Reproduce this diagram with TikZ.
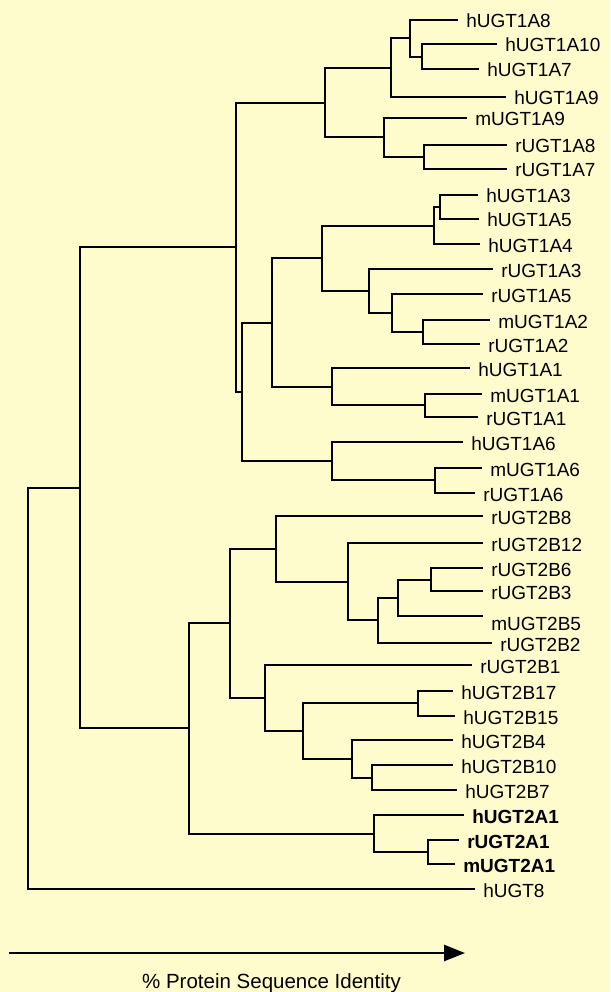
\documentclass[tikz,border=0pt]{standalone}
\usepackage{fontspec}
\setmainfont{Liberation Sans}
\usetikzlibrary{arrows.meta}
\definecolor{paper}{RGB}{254,251,204}

\begin{document}
\begin{tikzpicture}
  [x=1pt, y=-1pt, line width=2.6pt,
   leaf/.style={anchor=west, inner xsep=7pt, inner ysep=0pt, text height=16pt,
     text depth=0pt, font=\fontsize{19}{19}\selectfont},
   bold leaf/.style={leaf, font=\fontsize{19}{19}\selectfont\bfseries}]
  \useasboundingbox (0,0) rectangle (610,992);
  \fill[paper] (0,0) rectangle (610,992);

  % Leaves: UGT1A family
  \node[leaf] (h1A8)  at (458,20)  {hUGT1A8};
  \node[leaf] (h1A10) at (497,44)  {hUGT1A10};
  \node[leaf] (h1A7)  at (479,69)  {hUGT1A7};
  \node[leaf] (h1A9)  at (506,97)  {hUGT1A9};
  \node[leaf] (m1A9)  at (467,118) {mUGT1A9};
  \node[leaf] (r1A8)  at (507,145) {rUGT1A8};
  \node[leaf] (r1A7)  at (507,169) {rUGT1A7};
  \node[leaf] (h1A3)  at (478,195) {hUGT1A3};
  \node[leaf] (h1A5)  at (479,219) {hUGT1A5};
  \node[leaf] (h1A4)  at (480,244) {hUGT1A4};
  \node[leaf] (r1A3)  at (493,269) {rUGT1A3};
  \node[leaf] (r1A5)  at (483,294) {rUGT1A5};
  \node[leaf] (m1A2)  at (490,320) {mUGT1A2};
  \node[leaf] (r1A2)  at (480,344) {rUGT1A2};
  \node[leaf] (h1A1)  at (470,368) {hUGT1A1};
  \node[leaf] (m1A1)  at (482,394) {mUGT1A1};
  \node[leaf] (r1A1)  at (478,417) {rUGT1A1};
  \node[leaf] (h1A6)  at (463,442) {hUGT1A6};
  \node[leaf] (m1A6)  at (482,468) {mUGT1A6};
  \node[leaf] (r1A6)  at (475,493) {rUGT1A6};
  % Leaves: UGT2 family and hUGT8
  \node[leaf] (r2B8)  at (483,516) {rUGT2B8};
  \node[leaf] (r2B12) at (483,543) {rUGT2B12};
  \node[leaf] (r2B6)  at (483,568) {rUGT2B6};
  \node[leaf] (r2B3)  at (483,591) {rUGT2B3};
  \node[leaf, text height=28pt] (m2B5) at (483,616) {mUGT2B5};
  \node[leaf] (r2B2)  at (492,643) {rUGT2B2};
  \node[leaf] (r2B1)  at (472,665) {rUGT2B1};
  \node[leaf] (h2B17) at (453,691) {hUGT2B17};
  \node[leaf] (h2B15) at (455,716) {hUGT2B15};
  \node[leaf] (h2B4)  at (453,740) {hUGT2B4};
  \node[leaf] (h2B10) at (453,765) {hUGT2B10};
  \node[leaf] (h2B7)  at (457,790) {hUGT2B7};
  \node[bold leaf] (h2A1) at (464,815) {hUGT2A1};
  \node[bold leaf] (r2A1) at (459,840) {rUGT2A1};
  \node[bold leaf] (m2A1) at (455,864) {mUGT2A1};
  \node[leaf] (hUGT8) at (475,889) {hUGT8};

  % Branch points, UGT1A
  \coordinate (A10A7) at (422,57);
  \coordinate (A8grp) at (410,38);
  \coordinate (A9h)   at (391,68);
  \coordinate (rA8A7) at (424,157);
  \coordinate (A9rm)  at (384,137);
  \coordinate (A9all) at (325,103);
  \coordinate (A3A5)  at (440,207);
  \coordinate (A3A4)  at (434,226);
  \coordinate (A2mr)  at (423,332);
  \coordinate (A5A2)  at (392,313);
  \coordinate (rA3)   at (369,291);
  \coordinate (A3all) at (322,258);
  \coordinate (A1mr)  at (425,405);
  \coordinate (A1all) at (332,387);
  \coordinate (A1A3)  at (272,323);
  \coordinate (A6mr)  at (435,480);
  \coordinate (A6all) at (332,461);
  \coordinate (A1A6)  at (242,392);
  \coordinate (UGT1)  at (236,247);
  % Branch points, UGT2
  \coordinate (B6B3)  at (431,580);
  \coordinate (B5grp) at (398,598);
  \coordinate (B2grp) at (378,620);
  \coordinate (B12grp) at (348,582);
  \coordinate (B8grp) at (276,549);
  \coordinate (B17B15) at (418,703);
  \coordinate (B10B7) at (372,778);
  \coordinate (B4grp) at (352,759);
  \coordinate (hB)    at (303,731);
  \coordinate (B1grp) at (265,698);
  \coordinate (UGT2B) at (230,623);
  \coordinate (A1rm)  at (428,852);
  \coordinate (UGT2A) at (374,834);
  \coordinate (UGT2)  at (189,728);
  \coordinate (UGT12) at (80,488);
  \coordinate (root)  at (28,688);

  % UGT1A subtree
  \draw (A10A7) |- (h1A10) (A10A7) |- (h1A7);
  \draw (A8grp) |- (h1A8) (A8grp) |- (A10A7);
  \draw (A9h) |- (A8grp) (A9h) |- (h1A9);
  \draw (rA8A7) |- (r1A8) (rA8A7) |- (r1A7);
  \draw (A9rm) |- (m1A9) (A9rm) |- (rA8A7);
  \draw (A9all) |- (A9h) (A9all) |- (A9rm);
  \draw (A3A5) |- (h1A3) (A3A5) |- (h1A5);
  \draw (A3A4) |- (A3A5) (A3A4) |- (h1A4);
  \draw (A2mr) |- (m1A2) (A2mr) |- (r1A2);
  \draw (A5A2) |- (r1A5) (A5A2) |- (A2mr);
  \draw (rA3) |- (r1A3) (rA3) |- (A5A2);
  \draw (A3all) |- (A3A4) (A3all) |- (rA3);
  \draw (A1mr) |- (m1A1) (A1mr) |- (r1A1);
  \draw (A1all) |- (h1A1) (A1all) |- (A1mr);
  \draw (A1A3) |- (A3all) (A1A3) |- (A1all);
  \draw (A6mr) |- (m1A6) (A6mr) |- (r1A6);
  \draw (A6all) |- (h1A6) (A6all) |- (A6mr);
  \draw (A1A6) |- (A1A3) (A1A6) |- (A6all);
  \draw (UGT1) |- (A9all) (UGT1) |- (A1A6);
  % UGT2 subtree
  \draw (B6B3) |- (r2B6) (B6B3) |- (r2B3);
  \draw (B5grp) |- (B6B3) (B5grp) |- (m2B5);
  \draw (B2grp) |- (B5grp) (B2grp) |- (r2B2);
  \draw (B12grp) |- (r2B12) (B12grp) |- (B2grp);
  \draw (B8grp) |- (r2B8) (B8grp) |- (B12grp);
  \draw (B17B15) |- (h2B17) (B17B15) |- (h2B15);
  \draw (B10B7) |- (h2B10) (B10B7) |- (h2B7);
  \draw (B4grp) |- (h2B4) (B4grp) |- (B10B7);
  \draw (hB) |- (B17B15) (hB) |- (B4grp);
  \draw (B1grp) |- (r2B1) (B1grp) |- (hB);
  \draw (UGT2B) |- (B8grp) (UGT2B) |- (B1grp);
  \draw (A1rm) |- (r2A1) (A1rm) |- (m2A1);
  \draw (UGT2A) |- (h2A1) (UGT2A) |- (A1rm);
  \draw (UGT2) |- (UGT2B) (UGT2) |- (UGT2A);
  % top of the tree
  \draw (UGT12) |- (UGT1) (UGT12) |- (UGT2);
  \draw (root) |- (UGT12) (root) |- (hUGT8);

  % scale arrow
  \coordinate (axis0) at (9,953);
  \coordinate (axis1) at (465,953);
  \draw[-{Triangle[length=21pt,width=16pt]}] (axis0) -- (axis1);
  \node[anchor=base, font=\fontsize{20.5}{20.5}\selectfont] (caption) at (271.5,988)
    {\% Protein Sequence Identity};
\end{tikzpicture}
\end{document}
